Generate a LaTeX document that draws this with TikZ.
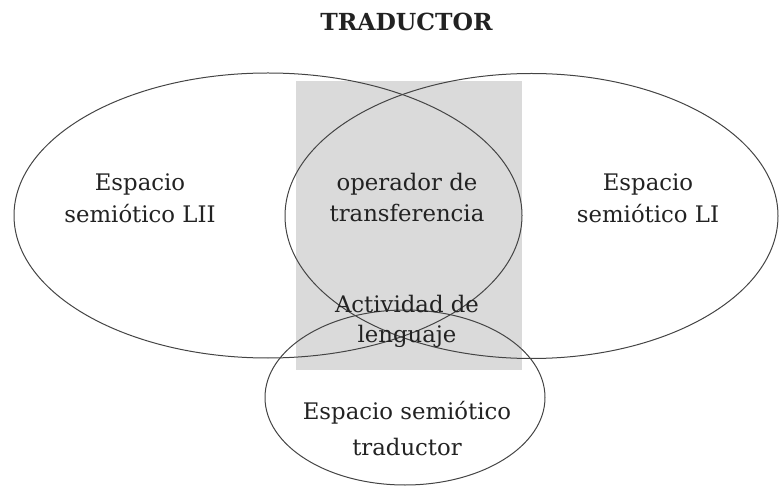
\documentclass[tikz,border=0pt]{standalone}
\usepackage{fontspec}
\setmainfont{DejaVu Serif}
\definecolor{boxgray}{HTML}{DADADA}
\definecolor{linegray}{HTML}{444444}
\definecolor{txt}{HTML}{222222}
\begin{document}
\begin{tikzpicture}[x=1pt,y=-1pt,
  ring/.style={draw=linegray,line width=1pt},
  lbl/.style={align=center,anchor=base,text=txt,inner sep=0pt,font=\fontsize{22.8}{32}\selectfont}]
\useasboundingbox (0,0) rectangle (779,486);
\fill[boxgray] (296,81) rectangle (522,370);
\draw[ring] (268,215.5) ellipse [x radius=254pt, y radius=142.5pt];
\draw[ring] (531.5,216) ellipse [x radius=246.5pt, y radius=142.5pt];
\draw[ring] (405,397.5) ellipse [x radius=140pt, y radius=87.5pt];
\node[lbl,font=\bfseries\fontsize{23.5}{26}\selectfont] (title) at (406.5,31) {TRADUCTOR};
\node[lbl] (lii) at (140,222.5) {Espacio\\semiótico LII};
\node[lbl] (li) at (648,222.5) {Espacio\\semiótico LI};
\node[lbl,font=\fontsize{22.8}{31}\selectfont] (op) at (407,221.7) {operador de\\transferencia};
\node[lbl,font=\fontsize{22.8}{30}\selectfont] (act) at (407,342) {Actividad de\\lenguaje};
\node[lbl,font=\fontsize{22.8}{36}\selectfont] (tr) at (407,455) {Espacio semiótico\\traductor};
\end{tikzpicture}
\end{document}
